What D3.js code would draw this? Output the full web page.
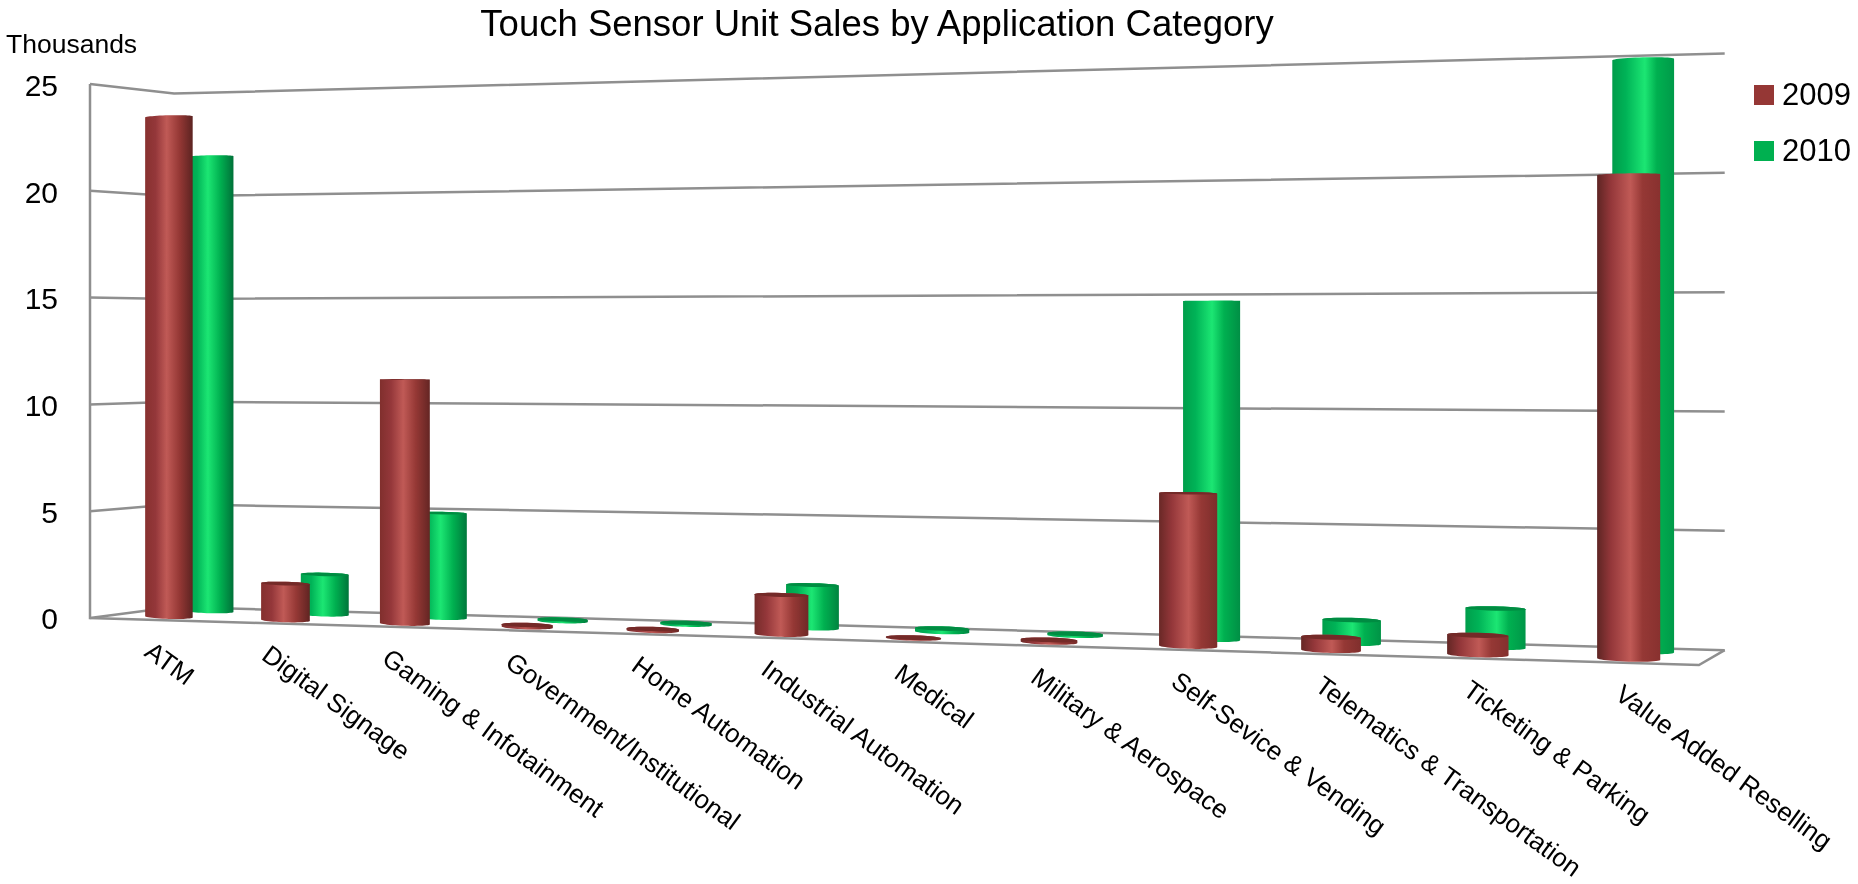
<!DOCTYPE html>
<html>
<head>
<meta charset="utf-8">
<script src="https://cdn.jsdelivr.net/npm/d3@7"></script>
<style>
  html, body { margin: 0; padding: 0; background: #fff; }
  svg { display: block; filter: blur(0.5px); }
  text { font-family: "Liberation Sans", Arial, sans-serif; fill: #000; }
  .grid { fill: none; stroke: #8f8f8f; stroke-width: 2.5; }
</style>
</head>
<body>
<svg id="chart" width="1858" height="884"></svg>
<script>
const categories = ["ATM", "Digital Signage", "Gaming & Infotainment", "Government/Institutional",
  "Home Automation", "Industrial Automation", "Medical", "Military & Aerospace",
  "Self-Sevice & Vending", "Telematics & Transportation", "Ticketing & Parking", "Value Added Reselling"];
const years = ["2009", "2010"];
const sales2009 = [23.5, 1.7, 11.2, 0.1, 0.08, 1.75, 0.03, 0.1, 6.5, 0.55, 0.8, 19.75];
const sales2010 = [21.8, 1.9, 4.9, 0.08, 0.08, 1.95, 0.15, 0.08, 14.7, 1.0, 1.65, 24.7];
const yTicks = [0, 5, 10, 15, 20, 25];

// plot box seen in perspective: u along the categories, v into the page, value upward
const P = { a: 1362.6, b: 91, c: 90, d: -49.4, e: 13.3, f: 618, g: -0.145, h: 0.04 };
const valuePx = d3.scaleLinear().domain([0, 25]).range([0, 534]);

function proj(u, v, val) {
  const w = 1 + P.g * u + P.h * v;
  return [(P.a * u + P.b * v + P.c) / w, (P.d * u + P.e * v + P.f - valuePx(val)) / w];
}

const uScale = d3.scaleBand().domain(categories).range([0, 1]);
const vScale = d3.scaleBand().domain(years).range([0, 1]);
const rU = 0.0172, rV = 0.18;

const svg = d3.select("#chart");
const defs = svg.append("defs");
const line = d3.line();

// walls and floor
const grid = svg.append("g").attr("class", "grid");
yTicks.forEach(t => {
  grid.append("path").attr("d", line([proj(0, 0, t), proj(0, 1, t), proj(1, 1, t)]));
});
grid.append("path").attr("d", line([proj(0, 0, 25), proj(0, 0, 0), proj(1, 0, 0), proj(1, 1, 0)]));

const STYLE = {
  2009: { left: ["#8a3230", "#5c2422"], mid: "#94373a", hi: "#c05a56", mid2: "#953835", right: ["#5a2220", "#8a3230"], cap: "#742a28", key: "#953735" },
  2010: { left: ["#00a44e", "#009c4a"], mid: "#00b357", hi: "#1ce673", mid2: "#00b050", right: ["#006f38", "#009c4a"], cap: "#008c42", key: "#00b050" },
};

// x stays on the bar's own depth so the discs are not skewed sideways
function arc(u, v, val, from, to) {
  return d3.range(0, 25).map(i => {
    const t = from + (to - from) * i / 24;
    const ux = u + rU * Math.cos(t);
    return [proj(ux, v, val)[0], proj(ux, v + rV * Math.sin(t), val)[1]];
  });
}

function drawBars(year, values) {
  const s = STYLE[year];
  const v = vScale(year) + vScale.bandwidth() / 2;
  const g = svg.append("g").attr("class", "bars-" + year);
  categories.forEach((cat, i) => {
    const u = uScale(cat) + uScale.bandwidth() / 2;
    const val = values[i];

    // does the lid tilt toward us, or are we looking at it from below
    const fromAbove = proj(u, v + rV, val)[1] < proj(u, v - rV, val)[1];
    const topArc = fromAbove ? arc(u, v, val, 0, Math.PI) : arc(u, v, val, 2 * Math.PI, Math.PI);
    const baseArc = arc(u, v, 0, 2 * Math.PI, Math.PI);

    const id = `grad-${year}-${i}`;
    const grad = defs.append("linearGradient").attr("id", id);
    const t = u;
    const hiAt = 0.45 + 0.08 * t;
    [[0, d3.interpolateRgb(s.left[0], s.left[1])(t)], [0.22, s.mid], [hiAt, s.hi], [0.72, s.mid2],
     [1, d3.interpolateRgb(s.right[0], s.right[1])(t)]]
      .forEach(([o, c]) => grad.append("stop").attr("offset", o).attr("stop-color", c));

    g.append("path").attr("d", line(topArc.concat(baseArc.slice().reverse())) + "Z").attr("fill", `url(#${id})`);
    if (fromAbove) {
      g.append("path").attr("d", line(arc(u, v, val, 0, 2 * Math.PI)) + "Z").attr("fill", s.cap);
    }
  });
}
drawBars("2010", sales2010);
drawBars("2009", sales2009);

// value axis
const yAxis = d3.scaleLinear().domain([0, 25]).range([619, 86]);
const axisG = svg.append("g").attr("transform", "translate(62,0)")
  .call(d3.axisLeft(yAxis).tickValues(yTicks).tickSize(0).tickPadding(4));
axisG.select(".domain").remove();
axisG.selectAll("text").style("font-size", "30px").style("font-family", '"Liberation Sans", Arial, sans-serif');

// category labels
svg.append("g").selectAll("text").data(categories).enter().append("text")
  .attr("transform", d => {
    const p = proj(uScale(d) + uScale.bandwidth() / 2, 0.05, 0);
    return `translate(${p[0] - 9},${p[1] + 36}) rotate(36)`;
  })
  .style("font-size", "26px")
  .text(d => d);

svg.append("text").attr("x", 877).attr("y", 36).attr("text-anchor", "middle")
  .style("font-size", "36.5px").text("Touch Sensor Unit Sales by Application Category");
svg.append("text").attr("x", 6).attr("y", 53).style("font-size", "26.5px").text("Thousands");

// legend
const legendY = d3.scalePoint().domain(years).range([85, 141]);
const legend = svg.append("g").selectAll("g").data(years).enter().append("g")
  .attr("transform", d => `translate(1754,${legendY(d)})`);
legend.append("rect").attr("width", 20).attr("height", 20).attr("fill", d => STYLE[d].key);
legend.append("text").attr("x", 28).attr("y", 20).style("font-size", "31px").text(d => d);
</script>
</body>
</html>
